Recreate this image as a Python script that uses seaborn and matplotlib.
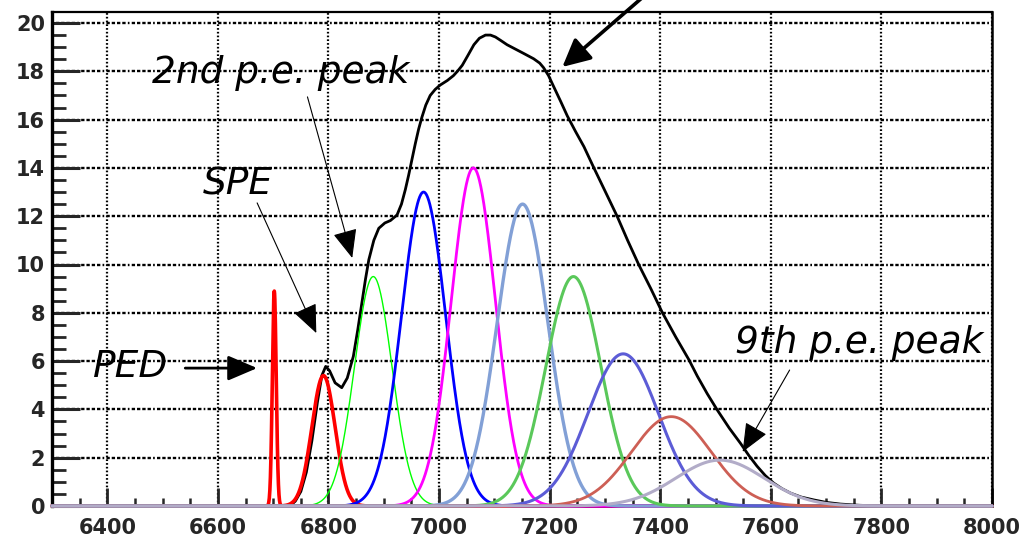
import numpy as np
import matplotlib
matplotlib.use("Agg")
import matplotlib.pyplot as plt
from matplotlib.ticker import MultipleLocator
import seaborn as sns

# Pedestal and photo-electron peak components (Gaussian fit parameters)
peak_labels = ["PED", "1 p.e.", "2 p.e.", "3 p.e.", "4 p.e.", "5 p.e.",
               "6 p.e.", "7 p.e.", "8 p.e.", "9 p.e."]
peak_means = [6702, 6791, 6881, 6972, 7062, 7151, 7243, 7333, 7420, 7508]
peak_heights = [8.9, 5.4, 9.5, 13.0, 14.0, 12.5, 9.5, 6.3, 3.7, 1.9]
peak_sigmas = [3.5, 21, 34, 40, 40, 46, 50, 64, 72, 80]

# Total charge spectrum
total_x = [6300, 6730, 6740, 6750, 6760, 6770, 6780, 6788, 6795, 6802, 6812,
           6824, 6834, 6845, 6853, 6861, 6867, 6873, 6882, 6891, 6902, 6912,
           6924, 6932, 6939, 6945, 6951, 6957, 6963, 6969, 6976, 6984, 6993,
           7002, 7015, 7026, 7034, 7042, 7052, 7063, 7073, 7084, 7093, 7102,
           7112, 7123, 7138, 7153, 7171, 7182, 7189, 7198, 7207, 7220, 7232,
           7247, 7262, 7280, 7300, 7322, 7341, 7361, 7383, 7404, 7428, 7452,
           7467, 7485, 7503, 7525, 7545, 7560, 7575, 7590, 7605, 7620, 7636,
           7655, 7678, 7700, 7726, 7760, 7800, 8000]
total_y = [0.0, 0.0, 0.2, 0.6, 1.4, 2.7, 4.3, 5.4, 5.78, 5.6, 5.1,
           4.9, 5.3, 6.2, 7.3, 8.5, 9.4, 10.2, 11.0, 11.5, 11.72, 11.82,
           12.05, 12.5, 13.1, 13.7, 14.35, 15.0, 15.6, 16.1, 16.6, 17.0, 17.25,
           17.43, 17.62, 17.82, 18.02, 18.25, 18.65, 19.1, 19.37, 19.5, 19.5, 19.42,
           19.27, 19.1, 18.92, 18.74, 18.52, 18.34, 18.15, 17.82, 17.38, 16.75, 16.15,
           15.5, 14.88, 14.0, 13.05, 12.0, 11.0, 10.0, 9.0, 8.0, 7.0, 6.05,
           5.38, 4.65, 3.98, 3.22, 2.6, 2.1, 1.65, 1.26, 0.95, 0.72, 0.53,
           0.37, 0.25, 0.15, 0.08, 0.03, 0.0, 0.0]

x_ticks = [6400, 6600, 6800, 7000, 7200, 7400, 7600, 7800, 8000]
y_ticks = [0, 2, 4, 6, 8, 10, 12, 14, 16, 18, 20]

# Line styling for each component
peak_colors = ["#ff0000", "#ff0000", "#00ff00", "#0000ff", "#ff00ff",
               "#82a0d6", "#5ac85a", "#5c5cd6", "#cd5f55", "#b2acc8"]
peak_lw = [2.6, 2.6, 1.0, 2.0, 2.0, 2.4, 2.2, 2.2, 2.0, 2.2]

sns.set_style("white")
plt.rcParams["font.family"] = ["DejaVu Sans"]
plt.rcParams["lines.scale_dashes"] = False

fig = plt.figure(figsize=(10.26, 5.37), dpi=100)
ax = fig.add_axes([52 / 1026, 1 - 506 / 537, 940 / 1026, 494 / 537])

xgrid = np.arange(6300, 8000.01, 0.5)

sns.lineplot(x=total_x, y=total_y, ax=ax, color="black", linewidth=2.0,
             estimator=None, sort=False, clip_on=False, zorder=3)

for m, h, s, c, lw in zip(peak_means, peak_heights, peak_sigmas, peak_colors, peak_lw):
    yv = h * np.exp(-0.5 * ((xgrid - m) / s) ** 2)
    sns.lineplot(x=xgrid, y=yv, ax=ax, color=c, linewidth=lw,
                 estimator=None, sort=False, clip_on=False, zorder=4)

ax.set_xlim(6300, 8000)
ax.set_ylim(0, 494 / 24.15)
ax.set_xlabel("")
ax.set_ylabel("")

ax.set_xticks(x_ticks)
ax.set_yticks(y_ticks)
ax.xaxis.set_minor_locator(MultipleLocator(50))
ax.yaxis.set_minor_locator(MultipleLocator(0.5))
ax.tick_params(axis="y", which="major", direction="in", length=20, width=2.2,
               labelsize=15, pad=5, left=True, right=False)
ax.tick_params(axis="y", which="minor", direction="in", length=10, width=2.0,
               left=True, right=False)
ax.tick_params(axis="x", which="major", direction="in", length=13, width=2.0,
               labelsize=15, pad=9, bottom=True, top=False)
ax.tick_params(axis="x", which="minor", direction="in", length=6, width=1.8,
               bottom=True, top=False)
for lab in ax.get_xticklabels() + ax.get_yticklabels():
    lab.set_fontweight("bold")

# dash-dot grid on values, dotted grid on channels
ax.yaxis.grid(True, color="black", linewidth=1.7,
              linestyle=(0, (1.2, 1.6, 2.4, 1.4, 2.4, 1.4, 2.4, 1.4, 2.4, 1.6)))
ax.xaxis.grid(True, color="black", linewidth=1.6, linestyle=(0, (1.2, 1.5)))
ax.set_axisbelow(True)

for side in ["left", "right", "top", "bottom"]:
    ax.spines[side].set_color("black")
ax.spines["left"].set_linewidth(2.4)
ax.spines["right"].set_linewidth(1.8)
ax.spines["top"].set_linewidth(1.6)
ax.spines["bottom"].set_linewidth(1.5)

# labels and arrows
txt = dict(fontsize=27, style="italic", family=["DejaVu Sans"],
           color="black", zorder=6)
ax.text(6374, 5.76, "PED", va="center", ha="left", **txt)
ax.text(6573, 12.88, "SPE", va="baseline", ha="left", **txt)
ax.text(6481, 17.52, "2nd p.e. peak", va="baseline", ha="left", **txt)
ax.text(7536, 6.34, "9th p.e. peak", va="baseline", ha="left", **txt)

thin = dict(arrowstyle="-|>,head_length=0.75,head_width=0.32", mutation_scale=24,
            lw=0.8, color="black", shrinkA=0, shrinkB=0)
bold = dict(arrowstyle="-|>,head_length=0.75,head_width=0.32", mutation_scale=24,
            lw=2.0, color="black", shrinkA=0, shrinkB=0)
heavy = dict(arrowstyle="-|>,head_length=0.7,head_width=0.35", mutation_scale=24,
             lw=2.6, color="black", shrinkA=0, shrinkB=0)

ax.annotate("", xy=(6671, 5.71), xytext=(6541, 5.71), arrowprops=bold,
            annotation_clip=False, zorder=6)
ax.annotate("", xy=(6778, 7.16), xytext=(6671, 12.55), arrowprops=thin,
            annotation_clip=False, zorder=6)
ax.annotate("", xy=(6843, 10.27), xytext=(6762, 16.94), arrowprops=thin,
            annotation_clip=False, zorder=6)
ax.annotate("", xy=(7549, 2.24), xytext=(7634, 5.63), arrowprops=thin,
            annotation_clip=False, zorder=6)
ax.annotate("", xy=(7223, 18.18), xytext=(7380, 21.3), arrowprops=heavy,
            annotation_clip=False, zorder=6)

fig.savefig("out.png", dpi=100, facecolor="white")
